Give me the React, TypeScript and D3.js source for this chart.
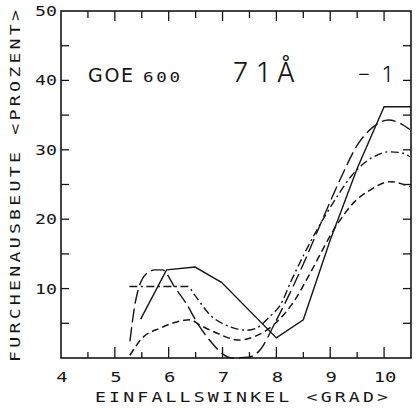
import React from 'react';
import * as d3 from 'd3';

const W = 416;
const H = 408;

// axis ticks
const xTickValues = [4, 5, 6, 7, 8, 9, 10];
const xTickLabels = ['4', '5', '6', '7', '8', '9', '10'];
const yTickValues = [10, 20, 30, 40, 50];
const yTickLabels = ['10', '20', '30', '40', '50'];

// solid curve
const solidX = [5.48, 5.96, 6.49, 6.98, 8.0, 8.5, 9.0, 9.5, 10.0, 10.5];
const solidY = [5.6, 12.7, 13.1, 10.9, 2.9, 5.5, 17.0, 27.3, 36.2, 36.2];

// long-dashed curve
const longX = [5.28, 5.38, 5.58, 5.75, 5.88, 6.12, 6.33, 6.55, 6.8, 7.0, 7.18, 7.48, 7.7, 7.97, 8.31, 8.56, 8.93, 9.2, 9.52, 9.8, 10.08, 10.3, 10.48];
const longY = [2.4, 8.0, 12.1, 12.7, 12.7, 10.1, 7.8, 4.8, 2.2, 0.6, 0.0, 0.1, 1.2, 5.0, 10.3, 14.6, 21.3, 26.0, 30.9, 33.3, 34.3, 33.8, 32.9];

// dash-dot curve
const dashDotX = [5.27, 5.7, 6.1, 6.36, 6.47, 6.77, 7.14, 7.45, 7.63, 7.88, 8.07, 8.28, 8.72, 9.09, 9.4, 9.65, 9.86, 10.08, 10.3, 10.48];
const dashDotY = [10.3, 10.3, 10.3, 10.3, 9.2, 6.2, 4.5, 4.0, 4.3, 6.0, 7.6, 11.2, 18.0, 22.8, 26.3, 28.2, 29.2, 29.7, 29.6, 29.0];

// short-dashed curve
const shortX = [5.28, 5.5, 5.84, 6.15, 6.4, 6.58, 6.89, 7.3, 7.6, 7.92, 8.38, 8.59, 9.15, 9.45, 9.74, 10.11, 10.48];
const shortY = [0.4, 2.8, 4.3, 5.2, 5.5, 4.75, 3.6, 2.6, 3.1, 4.6, 8.8, 11.7, 19.5, 22.5, 24.2, 25.4, 24.7];

const ink = '#161616';
const mono = '"DejaVu Sans Mono", "Liberation Mono", monospace';
const sans = '"DejaVu Sans", "Liberation Sans", sans-serif';

type WTProps = {
  x: number; y: number; sx?: number; rotate?: number; anchor?: 'start' | 'middle' | 'end';
  size: number; family?: string; weight?: number; length?: number; children: React.ReactNode;
};

// text with horizontally widened glyphs (plotter lettering)
function WideText({ x, y, sx = 1.3, rotate = 0, anchor = 'start', size, family = mono, weight = 400, length, children }: WTProps) {
  return (
    <g transform={`translate(${x},${y}) rotate(${rotate}) scale(${sx},1)`}>
      <text x={0} y={0} textAnchor={anchor} fontFamily={family} fontWeight={weight} fontSize={size} fill={ink}
        {...(length ? { textLength: length / sx, lengthAdjust: 'spacing' } : {})}>
        {children}
      </text>
    </g>
  );
}

export default function App() {
  const x = d3.scaleLinear().domain([4, 10.5]).range([61, 411]);
  const y = d3.scaleLinear().domain([0, 50]).range([358, 11]);

  const zip = (xs: number[], ys: number[]) => xs.map((v, i) => [v, ys[i]] as [number, number]);
  const lineLinear = d3.line<[number, number]>().x(d => x(d[0])).y(d => y(d[1])).curve(d3.curveLinear);
  const lineSmooth = d3.line<[number, number]>().x(d => x(d[0])).y(d => y(d[1])).curve(d3.curveMonotoneX);

  const xMinor = d3.range(4.5, 10.5, 1);
  const xMajor = xTickValues.filter(v => v > 4);
  const yMinor = d3.range(5, 50, 10);
  const yMajor = yTickValues.filter(v => v < 50);

  const [x0, x1] = x.range();
  const [y0, y1] = y.range();

  return (
    <svg width={W} height={H} viewBox={`0 0 ${W} ${H}`} style={{ position: 'absolute', left: 0, top: 0, background: '#fff' }}>
      <rect x={0} y={0} width={W} height={H} fill="#fff" />
      {/* frame */}
      <rect x={x0} y={y1} width={x1 - x0} height={y0 - y1} fill="none" stroke={ink} strokeWidth={1.6} />
      {/* bottom & top ticks */}
      {xMajor.map(v => (
        <g key={'xM' + v}>
          <line x1={x(v)} x2={x(v)} y1={y0} y2={y0 - 11} stroke={ink} strokeWidth={1.3} />
          <line x1={x(v)} x2={x(v)} y1={y1} y2={y1 + 10} stroke={ink} strokeWidth={1.3} />
        </g>
      ))}
      {xMinor.map(v => (
        <g key={'xm' + v}>
          <line x1={x(v)} x2={x(v)} y1={y0} y2={y0 - 6} stroke={ink} strokeWidth={1.3} />
          <line x1={x(v)} x2={x(v)} y1={y1} y2={y1 + 7} stroke={ink} strokeWidth={1.3} />
        </g>
      ))}
      {/* left & right ticks */}
      {[...yMajor, ...yMinor].map(v => (
        <g key={'y' + v}>
          <line x1={x0} x2={x0 + 8} y1={y(v)} y2={y(v)} stroke={ink} strokeWidth={1.3} />
          <line x1={x1} x2={x1 - 8} y1={y(v)} y2={y(v)} stroke={ink} strokeWidth={1.3} />
        </g>
      ))}
      {/* tick labels */}
      {xTickValues.map((v, i) => (
        <WideText key={'xl' + v} x={x(v) + 1} y={382} anchor="middle" size={14} sx={1.35}>
          {xTickLabels[i]}
        </WideText>
      ))}
      {yTickValues.map((v, i) => (
        <WideText key={'yl' + v} x={57} y={y(v) + 5} anchor="end" size={14} sx={1.3}>
          {yTickLabels[i]}
        </WideText>
      ))}
      {/* axis titles */}
      <WideText x={95} y={401.5} size={14} sx={1.3} length={293}>
        EINFALLSWINKEL &lt;GRAD&gt;
      </WideText>
      <WideText x={20} y={362} rotate={-90} size={14} sx={1.3} length={352}>
        FURCHENAUSBEUTE &lt;PROZENT&gt;
      </WideText>
      {/* annotations */}
      <WideText x={88} y={82} size={19} family={sans} sx={1.0} length={45}>GOE</WideText>
      <WideText x={143} y={82} size={14} sx={1.25} length={37}>600</WideText>
      <WideText x={233} y={82} size={27} family={'Inter, "DejaVu Sans", sans-serif'} weight={300} sx={1.0} length={62}>71Å</WideText>
      <WideText x={357} y={82} size={21} family={'Inter, "DejaVu Sans", sans-serif'} weight={300} sx={1.0} length={34}>−1</WideText>
      {/* curves */}
      <path d={lineLinear(zip(solidX, solidY)) || ''} fill="none" stroke={ink} strokeWidth={1.4} />
      <path d={lineSmooth(zip(longX, longY)) || ''} fill="none" stroke={ink} strokeWidth={1.4} strokeDasharray="14,5" />
      <path d={lineSmooth(zip(dashDotX, dashDotY)) || ''} fill="none" stroke={ink} strokeWidth={1.4} strokeDasharray="8,3.5,2,3.5" />
      <path d={lineSmooth(zip(shortX, shortY)) || ''} fill="none" stroke={ink} strokeWidth={1.5} strokeDasharray="7,4" />
    </svg>
  );
}
